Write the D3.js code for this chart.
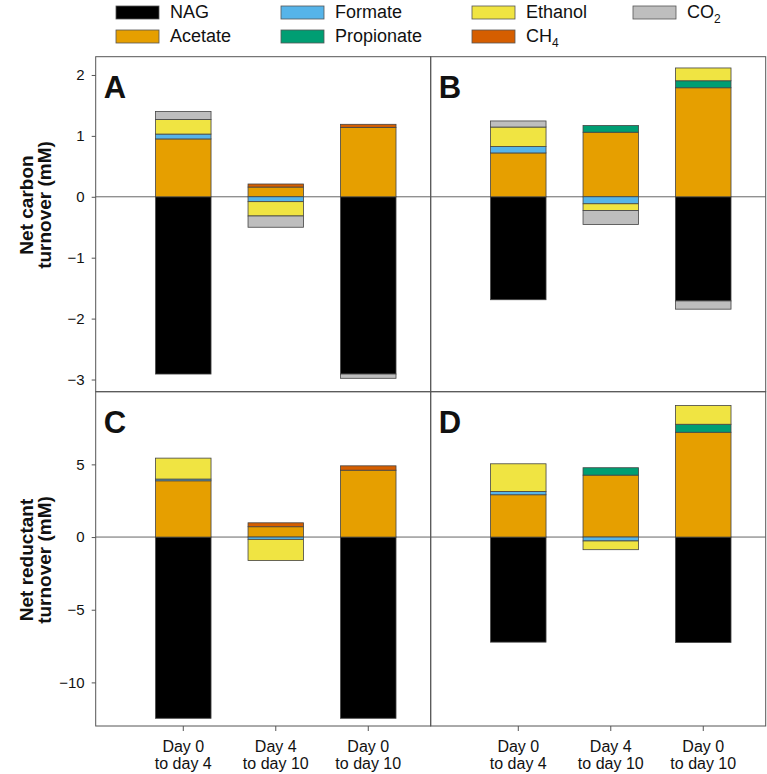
<!DOCTYPE html>
<meta charset="utf-8">
<style>
  body { margin: 0; background: #fff; }
  text { font-family: "Liberation Sans", Arial, sans-serif; fill: #111; }
  .frame { fill: none; stroke: #555; stroke-width: 1px; }
  .zero { stroke: #666; stroke-width: 1px; }
  .seg { stroke: #444; stroke-width: 0.8px; }
  .tick line { stroke: #555; }
  .domain { display: none; }
</style>
<body>
<script src="https://d3js.org/d3.v7.min.js"></script>
<script>
// categories (x) and series (stacking order)
var categories = [["Day 0", "to day 4"], ["Day 4", "to day 10"], ["Day 0", "to day 10"]];
var seriesNames = ["NAG", "Acetate", "Formate", "Propionate", "Ethanol", "CH4", "CO2"];
var colors = ["#000000", "#E69F00", "#56B4E9", "#009E73", "#F0E442", "#D55E00", "#BEBEBE"];

// rows follow seriesNames, columns follow categories
var panelA = [
  [-2.91, 0, -2.91],
  [0.95, 0.16, 1.14],
  [0.08, -0.08, 0],
  [0, 0, 0],
  [0.24, -0.235, 0],
  [0, 0.05, 0.05],
  [0.13, -0.185, -0.07]
];
var panelB = [
  [-1.69, 0, -1.71],
  [0.72, 1.06, 1.79],
  [0.105, -0.115, 0],
  [0, 0.11, 0.115],
  [0.32, -0.11, 0.21],
  [0, 0, 0],
  [0.10, -0.23, -0.135]
];
var panelC = [
  [-12.47, 0, -12.47],
  [3.87, 0.71, 4.6],
  [0.12, -0.16, 0],
  [0, 0, 0],
  [1.44, -1.46, 0],
  [0, 0.27, 0.3],
  [0, 0, 0]
];
var panelD = [
  [-7.23, 0, -7.25],
  [2.91, 4.26, 7.21],
  [0.23, -0.27, 0],
  [0, 0.51, 0.55],
  [1.9, -0.6, 1.29],
  [0, 0, 0],
  [0, 0, 0]
];

var carbonTicks = [-3, -2, -1, 0, 1, 2];
var reductTicks = [-10, -5, 0, 5];

var W = 767, H = 774;
var x0 = 95.7, x1 = 430.7, x2 = 766;
var y0 = 56.7, y1 = 391.7, y2 = 726;

var svg = d3.select("body").append("svg")
    .attr("width", W).attr("height", H);

var xs = d3.scaleLinear().domain([-0.947, 2.675]).range([0, x1 - x0]);
var barW = xs(0.3) - xs(-0.3);

var yCarbon = d3.scaleLinear().domain([-3.2, 2.3]).range([y1, y0]);
var yReduct = d3.scaleLinear().domain([-13, 10]).range([y2, y1]);

var panels = [
  {data: panelA, letter: "A", left: x0, y: yCarbon, top: y0, bottom: y1},
  {data: panelB, letter: "B", left: x1, y: yCarbon, top: y0, bottom: y1},
  {data: panelC, letter: "C", left: x0, y: yReduct, top: y1, bottom: y2},
  {data: panelD, letter: "D", left: x1, y: yReduct, top: y1, bottom: y2}
];

var stack = d3.stack()
    .keys(d3.range(seriesNames.length))
    .order(d3.stackOrderNone)
    .offset(d3.stackOffsetDiverging);

panels.forEach(function(p) {
  var g = svg.append("g").attr("transform", "translate(" + p.left + ",0)");
  var pw = x1 - x0;

  // rows per category for d3.stack
  var rows = categories.map(function(c, i) {
    return p.data.map(function(s) { return s[i]; });
  });
  var layers = stack(rows);

  g.append("line").attr("class", "zero")
      .attr("x1", 0).attr("x2", pw)
      .attr("y1", p.y(0)).attr("y2", p.y(0));

  layers.forEach(function(layer, k) {
    g.selectAll(null)
      .data(layer.map(function(d, i) { return {lo: d[0], hi: d[1], i: i}; })
                 .filter(function(d) { return d.hi !== d.lo; }))
      .enter().append("rect")
      .attr("class", "seg")
      .attr("x", function(d) { return xs(d.i) - barW / 2; })
      .attr("width", barW)
      .attr("y", function(d) { return p.y(d.hi); })
      .attr("height", function(d) { return p.y(d.lo) - p.y(d.hi); })
      .style("fill", colors[k]);
  });

  g.append("rect").attr("class", "frame")
      .attr("x", 0).attr("y", p.top)
      .attr("width", pw).attr("height", p.bottom - p.top);

  g.append("text")
      .attr("x", 8).attr("y", p.top + 41)
      .style("font-size", "31px").style("font-weight", "bold")
      .text(p.letter);
});

// y axes
var axC = svg.append("g").attr("transform", "translate(" + x0 + ",0)")
    .call(d3.axisLeft(yCarbon).tickValues(carbonTicks).tickFormat(d3.format("d"))
      .tickSize(4).tickPadding(7));
var axR = svg.append("g").attr("transform", "translate(" + x0 + ",0)")
    .call(d3.axisLeft(yReduct).tickValues(reductTicks).tickFormat(d3.format("d"))
      .tickSize(4).tickPadding(7));
[axC, axR].forEach(function(a) {
  a.selectAll("text").style("font-size", "15px")
      .style("font-family", "'Liberation Sans', Arial, sans-serif").attr("fill", "#111");
});

// x axes at the bottom
[x0, x1].forEach(function(left) {
  var g = svg.append("g").attr("transform", "translate(" + left + "," + y2 + ")");
  g.selectAll("line").data(categories).enter().append("line")
      .attr("x1", function(d, i) { return xs(i); })
      .attr("x2", function(d, i) { return xs(i); })
      .attr("y1", 0).attr("y2", 5)
      .style("stroke", "#555");
  var t = g.selectAll("text").data(categories).enter().append("text")
      .attr("text-anchor", "middle")
      .style("font-size", "16px");
  t.append("tspan").attr("x", function(d, i) { return xs(i); })
      .attr("y", 26).text(function(d) { return d[0]; });
  t.append("tspan").attr("x", function(d, i) { return xs(i); })
      .attr("y", 43).text(function(d) { return d[1]; });
});

// y titles
function yTitle(cy, lines) {
  var t = svg.append("text")
      .attr("transform", "translate(0," + cy + ") rotate(-90)")
      .attr("text-anchor", "middle")
      .style("font-size", "19px").style("font-weight", "bold");
  t.append("tspan").attr("x", 0).attr("y", 33).text(lines[0]);
  t.append("tspan").attr("x", 0).attr("y", 51).text(lines[1]);
}
yTitle(205, ["Net carbon", "turnover (mM)"]);
yTitle(560, ["Net reductant", "turnover (mM)"]);

// legend
var legendPos = [
  [116, 12], [116, 36], [281, 12], [281, 36], [472, 12], [472, 36], [633, 12]
];
var leg = svg.append("g").selectAll("g").data(seriesNames).enter().append("g")
    .attr("transform", function(d, i) {
      return "translate(" + legendPos[i][0] + "," + legendPos[i][1] + ")"; });
leg.append("rect")
    .attr("x", 0).attr("y", -6).attr("width", 43).attr("height", 13)
    .style("fill", function(d, i) { return colors[i]; })
    .style("stroke", "#555").style("stroke-width", 0.8);
leg.each(function(d) {
  var t = d3.select(this).append("text")
      .attr("x", 54).attr("y", 6)
      .style("font-size", "18px");
  var m = d.match(/^([A-Z]+)(\d)$/);
  if (m && (d === "CH4" || d === "CO2")) {
    t.append("tspan").text(m[1]);
    t.append("tspan").attr("dy", 5).style("font-size", "12px").text(m[2]);
  } else {
    t.text(d);
  }
});
</script>
</body>
